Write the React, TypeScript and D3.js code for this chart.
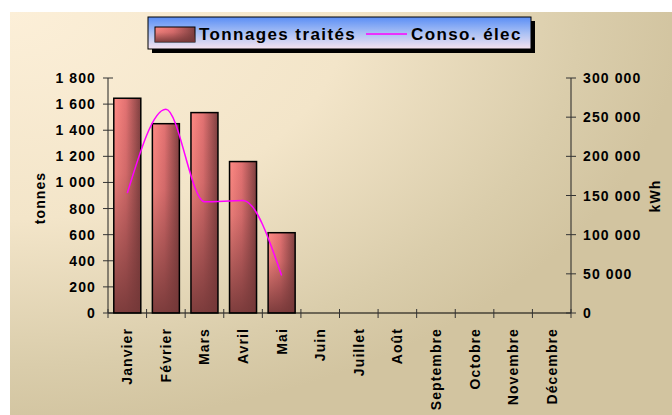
import React from 'react';
import * as d3 from 'd3';

const width = 672;
const height = 415;

const months = ['Janvier', 'Février', 'Mars', 'Avril', 'Mai', 'Juin', 'Juillet', 'Août', 'Septembre', 'Octobre', 'Novembre', 'Décembre'];
const tonnages = [1645, 1450, 1535, 1160, 615];
const conso = [153000, 260000, 142000, 143500, 48000];
const tonneTicks = [0, 200, 400, 600, 800, 1000, 1200, 1400, 1600, 1800];
const kwhTicks = [0, 50000, 100000, 150000, 200000, 250000, 300000];

const plotLeft = 108;
const plotRight = 571;
const plotTop = 78;
const plotBottom = 313;

const x = d3.scaleBand<string>()
  .domain(months)
  .range([plotLeft, plotRight])
  .paddingInner(0.3)
  .paddingOuter(0.15);

const yLeft = d3.scaleLinear().domain([0, 1800]).range([plotBottom, plotTop]);
const yRight = d3.scaleLinear().domain([0, 300000]).range([plotBottom, plotTop]);

const fr = d3.formatLocale({ decimal: ',', thousands: ' ', grouping: [3], currency: ['', ' €'] });
const fmt = fr.format(',');

const step = (plotRight - plotLeft) / months.length;
const boundaries = d3.range(months.length + 1).map(i => plotLeft + i * step);

const line = d3.line<number>()
  .x((d, i) => x(months[i])! + x.bandwidth() / 2)
  .y(d => yRight(d))
  .curve(d3.curveMonotoneX);

const font = '"Liberation Sans", Arial, sans-serif';
const tickStyle = { fontFamily: font, fontSize: 14, fontWeight: 'bold' as const, letterSpacing: 1.1, fill: '#000' };
const legendStyle = { fontFamily: font, fontSize: 17, fontWeight: 'bold' as const, letterSpacing: 1.4 };

export default function App() {
  return (
    <svg width={width} height={height} style={{ position: 'absolute', left: 0, top: 0 }}>
      <defs>
        <radialGradient id="bg" cx="0" cy="0" r="1" fx="0" fy="0">
          <stop offset="0" stopColor="#fcefd8" />
          <stop offset="0.5" stopColor="#f3e5c9" />
          <stop offset="0.85" stopColor="#dacdab" />
          <stop offset="1" stopColor="#d2c4a0" />
        </radialGradient>
        <linearGradient id="barH" x1="0" x2="1" y1="0" y2="0">
          <stop offset="0" stopColor="#ff8a84" />
          <stop offset="0.45" stopColor="#e27272" />
          <stop offset="1" stopColor="#7e4040" />
        </linearGradient>
        <linearGradient id="barV" x1="0" x2="0" y1="0" y2="1">
          <stop offset="0" stopColor="#733737" stopOpacity="0" />
          <stop offset="0.35" stopColor="#733737" stopOpacity="0.15" />
          <stop offset="1" stopColor="#733737" stopOpacity="0.92" />
        </linearGradient>
        <linearGradient id="legendBg" x1="0" x2="0" y1="0" y2="1">
          <stop offset="0" stopColor="#5a8ef6" />
          <stop offset="0.5" stopColor="#a9c0f4" />
          <stop offset="1" stopColor="#f7e3ef" />
        </linearGradient>
      </defs>

      <rect x={10} y={12} width={width} height={height} fill="url(#bg)" />

      {/* legend */}
      <rect x={152} y={21} width={383} height={32} fill="#000" />
      <rect x={148} y={17} width={383} height={32} fill="url(#legendBg)" stroke="#000" strokeWidth={1} />
      <rect x={155} y={27} width={40} height={15} fill="url(#barH)" stroke="#000" strokeWidth={1} />
      <rect x={155} y={27} width={40} height={15} fill="url(#barV)" />
      <text x={199} y={40} style={legendStyle}>Tonnages traités</text>
      <line x1={366} x2={407} y1={34} y2={34} stroke="#ff00ff" strokeWidth={1.5} />
      <text x={411} y={40} style={legendStyle}>Conso. élec</text>

      {/* bars */}
      {tonnages.map((v, i) => (
        <g key={months[i]}>
          <rect x={x(months[i])} y={yLeft(v)} width={x.bandwidth()} height={plotBottom - yLeft(v)} fill="url(#barH)" />
          <rect x={x(months[i])} y={yLeft(v)} width={x.bandwidth()} height={plotBottom - yLeft(v)} fill="url(#barV)" stroke="#000" strokeWidth={1.5} />
        </g>
      ))}

      {/* line */}
      <path d={line(conso) || ''} fill="none" stroke="#ff00ff" strokeWidth={1.5} />

      {/* axes */}
      <line x1={plotLeft} x2={plotLeft} y1={plotTop} y2={plotBottom} stroke="#222" />
      <line x1={plotRight} x2={plotRight} y1={plotTop} y2={plotBottom} stroke="#222" />
      <line x1={plotLeft} x2={plotRight} y1={plotBottom} y2={plotBottom} stroke="#000" />
      {tonneTicks.map(t => (
        <g key={'l' + t}>
          <line x1={plotLeft - 5} x2={plotLeft + 5} y1={yLeft(t)} y2={yLeft(t)} stroke="#333" />
          <text x={96} y={yLeft(t) + 5} textAnchor="end" style={tickStyle}>{fmt(t)}</text>
        </g>
      ))}
      {kwhTicks.map(t => (
        <g key={'r' + t}>
          <line x1={plotRight - 5} x2={plotRight + 5} y1={yRight(t)} y2={yRight(t)} stroke="#333" />
          <text x={583} y={yRight(t) + 5} style={tickStyle}>{fmt(t)}</text>
        </g>
      ))}
      {boundaries.map((b, i) => (
        <line key={'b' + i} x1={b} x2={b} y1={plotBottom - 4} y2={plotBottom + 5} stroke="#333" />
      ))}
      {months.map(m => {
        const cx = x(m)! + x.bandwidth() / 2;
        return (
          <text key={m} transform={`translate(${cx + 5},328) rotate(-90)`} textAnchor="end" style={tickStyle}>{m}</text>
        );
      })}

      <text transform="translate(45,198) rotate(-90)" textAnchor="middle" style={tickStyle}>tonnes</text>
      <text transform="translate(660,196) rotate(-90)" textAnchor="middle" style={tickStyle}>kWh</text>
    </svg>
  );
}
